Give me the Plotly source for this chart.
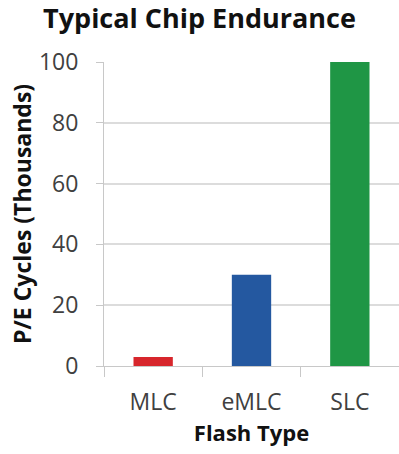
import plotly.graph_objects as go

categories = ["MLC", "eMLC", "SLC"]
values = [3, 30, 100]
colors = ["#d7262c", "#2458a0", "#1f9645"]
y_ticks = [0, 20, 40, 60, 80, 100]

fig = go.Figure()
fig.add_trace(go.Bar(
    x=categories, y=values,
    marker=dict(color=colors, line=dict(width=0)),
    width=0.4,
))

font = "Open Sans, Noto Sans, DejaVu Sans, sans-serif"
fig.update_layout(
    width=399, height=454,
    margin=dict(l=104, r=0, t=62, b=88),
    paper_bgcolor="white", plot_bgcolor="white",
    showlegend=False,
    title=dict(text="<b>Typical Chip Endurance</b>", x=0.5, xanchor="center",
               y=1 - 19 / 454, yref="container", yanchor="middle",
               font=dict(family=font, size=27, color="#111111")),
    xaxis=dict(
        type="category", tickson="boundaries", ticks="outside", ticklen=10,
        tickcolor="#c8c8c8", showline=True, linecolor="#c8c8c8",
        showgrid=False, range=[-0.5, 2.5], ticklabelstandoff=15,
        tickfont=dict(family=font, size=23, color="#404040"),
        title=dict(text="<b>Flash Type</b>", standoff=10,
                   font=dict(family=font, size=22, color="#111111")),
    ),
    yaxis=dict(
        range=[0, 100], tickvals=y_ticks, ticks="outside", ticklen=7,
        tickcolor="#c8c8c8", showline=True, linecolor="#c8c8c8",
        gridcolor="#dcdcdc", gridwidth=1.5, zeroline=False,
        ticklabelstandoff=13,
        tickfont=dict(family=font, size=23, color="#404040"),
        title=dict(text="<b>P/E Cycles (Thousands)</b>", standoff=0,
                   font=dict(family=font, size=23, color="#111111")),
    ),
)

fig.write_html("out.html")
